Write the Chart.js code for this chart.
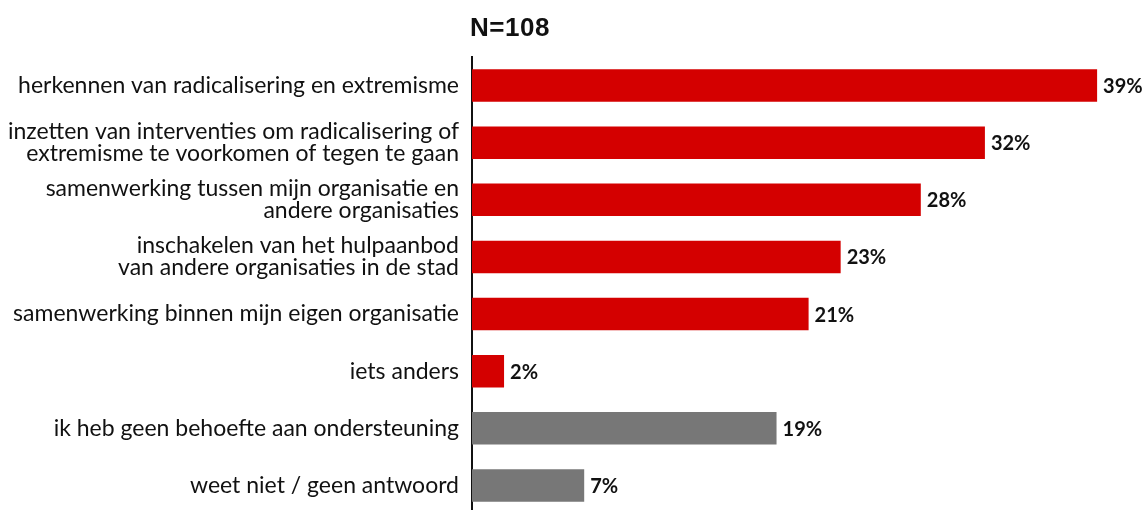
<!DOCTYPE html>
<html>
<head>
<meta charset="utf-8">
<script src="https://cdn.jsdelivr.net/npm/chart.js@4"></script>
<style>
  html, body { margin:0; padding:0; background:#fff; overflow:hidden; }
  #wrap { position:relative; width:1146px; height:514px; }
  #title { position:absolute; left:470px; top:12px; font-family:"Liberation Sans", Arial, sans-serif; font-weight:bold; font-size:26px; color:#111; letter-spacing:0.5px; }
</style>
</head>
<body>
<div id="wrap">
  <div id="title">N=108</div>
  <canvas id="c" width="1146" height="514"></canvas>
</div>
<script>
const categories = [
  "herkennen van radicalisering en extremisme",
  ["inzetten van interventies om radicalisering of", "extremisme te voorkomen of tegen te gaan"],
  ["samenwerking tussen mijn organisatie en", "andere organisaties"],
  ["inschakelen van het hulpaanbod", "van andere organisaties in de stad"],
  "samenwerking binnen mijn eigen organisatie",
  "iets anders",
  "ik heb geen behoefte aan ondersteuning",
  "weet niet / geen antwoord"
];
const values = [39, 32, 28, 23, 21, 2, 19, 7];
const barColors = ["#d40000","#d40000","#d40000","#d40000","#d40000","#d40000","#777777","#777777"];

const valueLabels = {
  id: 'valueLabels',
  afterDatasetsDraw(chart) {
    const ctx = chart.ctx;
    const meta = chart.getDatasetMeta(0);
    ctx.save();
    ctx.font = 'bold 20px Lato, "Open Sans", sans-serif';
    ctx.fillStyle = '#111';
    ctx.textBaseline = 'middle';
    ctx.textAlign = 'left';
    meta.data.forEach((bar, i) => {
      ctx.fillText(values[i] + '%', bar.x + 6, bar.y + 1);
    });
    ctx.restore();
  }
};

new Chart(document.getElementById('c'), {
  type: 'bar',
  data: {
    labels: categories,
    datasets: [{
      data: values,
      backgroundColor: barColors,
      borderWidth: 0,
      barPercentage: 0.57,
      categoryPercentage: 1.0
    }]
  },
  options: {
    indexAxis: 'y',
    responsive: false,
    animation: false,
    layout: { padding: { top: 57, left: 0, right: 0, bottom: 0 } },
    plugins: { legend: { display: false }, tooltip: { enabled: false }, title: { display: false } },
    scales: {
      x: { display: false, min: 0, max: 42.05, grid: { display: false } },
      y: {
        afterFit(scale) { scale.width = 472; scale.paddingTop = 0; scale.paddingBottom = 0; },
        grid: { display: false, drawTicks: false },
        border: { display: true, color: '#111', width: 2 },
        ticks: {
          color: '#111',
          padding: 13,
          font: { family: 'Lato, "Open Sans", sans-serif', size: 23, lineHeight: 0.95 }
        }
      }
    }
  },
  plugins: [valueLabels]
});
</script>
</body>
</html>
